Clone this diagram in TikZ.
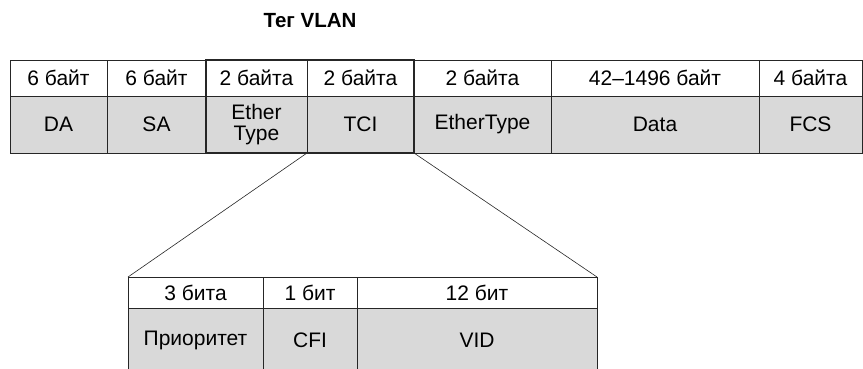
\documentclass[tikz,border=0pt]{standalone}
\usepackage{fontspec}
\setmainfont{Liberation Sans}
\usetikzlibrary{positioning}

\begin{document}
\begin{tikzpicture}[x=1pt,y=1pt,thick,draw=black!85,node distance=0pt,
    size/.style={draw,rectangle,inner sep=0pt,outer sep=0pt,minimum height=36pt,font=\fontsize{21}{23}\selectfont},
    field/.style={draw,rectangle,fill=gray!30,inner sep=0pt,outer sep=0pt,minimum height=57pt,align=center,font=\fontsize{21}{21}\selectfont},
    bitsize/.style={size,minimum height=31pt},
    bitfield/.style={field,minimum height=64pt}]
  \useasboundingbox (0,0) rectangle (863,-368);

  \node[font=\fontsize{20.5}{22}\selectfont\bfseries] (title) at (310,-21) {Тег VLAN};

  % frame sizes
  \node[size,minimum width=97pt,anchor=north west] (sda) at (10,-60) {6 байт};
  \node[size,minimum width=99pt] (ssa) [right=of sda] {6 байт};
  \node[size,minimum width=101pt] (set) [right=of ssa] {2 байта};
  \node[size,minimum width=107pt] (stci) [right=of set] {2 байта};
  \node[size,minimum width=137pt] (seth) [right=of stci] {2 байта};
  \node[size,minimum width=208pt] (sdata) [right=of seth] {42--1496 байт};
  \node[size,minimum width=103pt] (sfcs) [right=of sdata] {4 байта};

  % frame fields
  \node[field,minimum width=97pt] (fda) [below=of sda] {DA};
  \node[field,minimum width=99pt] (fsa) [below=of ssa] {SA};
  \node[field,minimum width=101pt] (fet) [below=of set] {Ether\\Type};
  \node[field,minimum width=107pt] (ftci) [below=of stci] {TCI};
  \node[field,minimum width=137pt] (feth) [below=of seth] {EtherType};
  \node[field,minimum width=208pt] (fdata) [below=of sdata] {Data};
  \node[field,minimum width=103pt] (ffcs) [below=of sfcs] {FCS};

  % tag
  \draw[line width=2.4pt] (set.north west) rectangle (ftci.south east);

  % TCI
  \node[bitsize,minimum width=135pt,anchor=north west] (sprio) at (128,-277) {3 бита};
  \node[bitsize,minimum width=94pt] (scfi) [right=of sprio] {1 бит};
  \node[bitsize,minimum width=240pt] (svid) [right=of scfi] {12 бит};
  \node[bitfield,minimum width=135pt] (fprio) [below=of sprio] {Приоритет};
  \node[bitfield,minimum width=94pt] (fcfi) [below=of scfi] {CFI};
  \node[bitfield,minimum width=240pt] (fvid) [below=of svid] {VID};

  \draw[semithick] (ftci.south west) -- (sprio.north west)
        (ftci.south east) -- (svid.north east);
\end{tikzpicture}
\end{document}
